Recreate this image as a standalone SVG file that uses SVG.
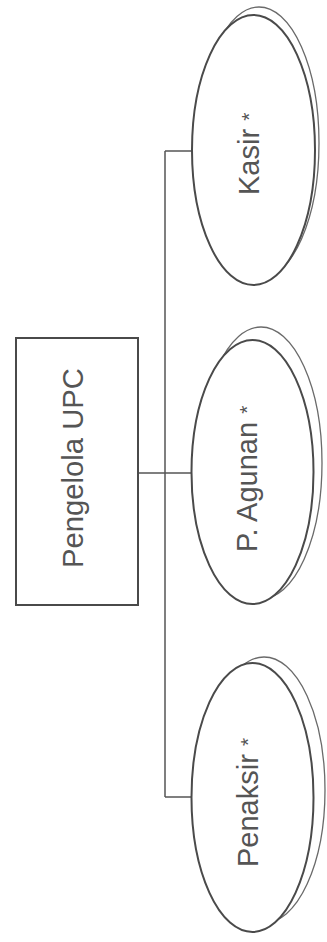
<svg xmlns="http://www.w3.org/2000/svg" width="327" height="942" viewBox="0 0 327 942">
<style>
.back{fill:#fff;stroke:#6a6a6a;stroke-width:1.3}
.front{fill:#fff;stroke:#4a4a4a;stroke-width:2}
.box{fill:#fff;stroke:#4a4a4a;stroke-width:2}
.lbl{font-family:"Liberation Sans",Arial,sans-serif;font-size:29px;fill:#555}
.ast{font-size:21px}
.conn{fill:none;stroke:#555;stroke-width:1.5}
</style>
<rect width="327" height="942" fill="#fff"/>
<g id="connectors">
<path class="conn" d="M165 151 V797"/>
<path class="conn" d="M165 151 H192"/>
<path class="conn" d="M138 473 H192"/>
<path class="conn" d="M165 797 H192"/>
</g>
<g id="pengelola">
<rect class="box" x="16" y="338" width="122" height="267"/>
<text class="lbl" transform="rotate(-90 83 568)" x="83" y="568" textLength="200" lengthAdjust="spacingAndGlyphs">Pengelola UPC</text>
</g>
<g id="kasir">
<ellipse class="back" cx="259" cy="143" rx="60" ry="136"/>
<ellipse class="front" cx="253.5" cy="150" rx="61.5" ry="135"/>
<text class="lbl" transform="rotate(-90 259 195)" x="259" y="195">Kasir <tspan class="ast" dy="-3">*</tspan></text>
</g>
<g id="agunan">
<ellipse class="back" cx="261" cy="463" rx="61" ry="136"/>
<ellipse class="front" cx="252.5" cy="472" rx="61" ry="132"/>
<text class="lbl" transform="rotate(-90 257 552)" x="257" y="552">P. Agunan <tspan class="ast" dy="-3">*</tspan></text>
</g>
<g id="penaksir">
<ellipse class="back" cx="264" cy="790" rx="61" ry="133"/>
<ellipse class="front" cx="252.5" cy="797.5" rx="61" ry="134.5"/>
<text class="lbl" transform="rotate(-90 258 867)" x="258" y="867">Penaksir <tspan class="ast" dy="-3">*</tspan></text>
</g>
</svg>
